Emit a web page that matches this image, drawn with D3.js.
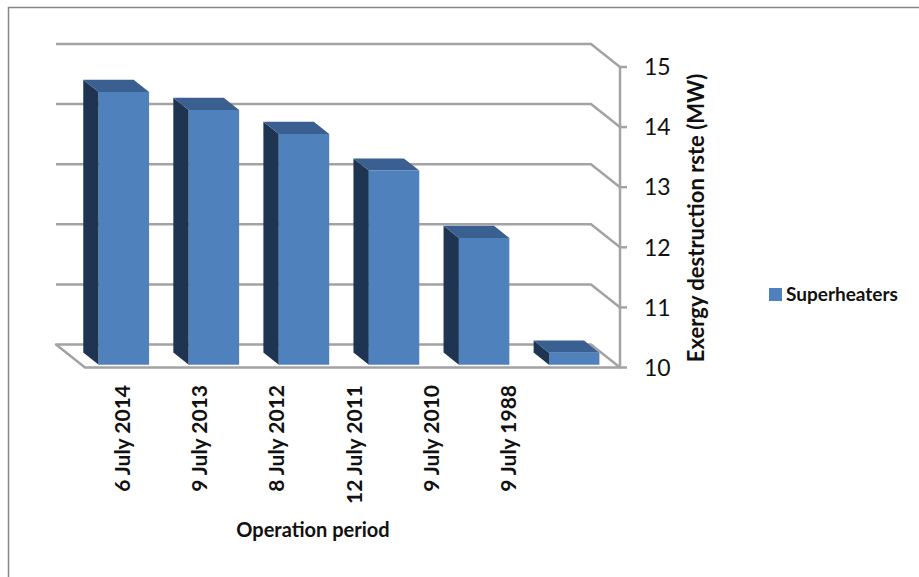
<!DOCTYPE html>
<html>
<head>
<meta charset="utf-8">
<script src="https://cdn.jsdelivr.net/npm/d3@7"></script>
<style>
  body { margin: 0; background: #fff; }
  svg { display: block; font-family: Lato, "Open Sans", sans-serif; }
</style>
</head>
<body>
<svg width="919" height="577"></svg>
<script>
// Chart data
var categories = ["6 July 2014", "9 July 2013", "8 July 2012", "12 July 2011", "9 July 2010", "9 July 1988"];
var superheaters = [14.54, 14.24, 13.84, 13.23, 12.11, 10.2];
var yTicks = [10, 11, 12, 13, 14, 15];
var seriesName = "Superheaters";

var svg = d3.select("svg");

// outer frame (runs off the right / bottom edge)
svg.append("rect")
    .attr("x", 8.5).attr("y", 7.5)
    .attr("width", 1000).attr("height", 1000)
    .attr("fill", "none")
    .attr("stroke", "#868686")
    .attr("stroke-width", 1.5);

var axisX = 620;
var depthX = 29, depthY = 23; // offset of back wall

var y = d3.scaleLinear().domain([10, 15]).range([367.5, 67]);
var x = d3.scaleBand().domain(categories).range([85, axisX])
    .paddingInner(0.44).paddingOuter(0.19);
var xLabel = d3.scaleBand().domain(categories).range([83.8, 547]);

// project a front-plane point to a given depth (0 = front, 1 = back wall)
function proj(px, py, z) {
    return [px - z * depthX, py - z * depthY];
}

var grid = svg.append("g").attr("class", "grid");
var gridColor = "#a3a3a3";

// floor
var floorPts = [proj(85, y(10), 0), proj(axisX, y(10), 0), proj(axisX, y(10), 1), proj(85, y(10), 1)];
grid.append("path")
    .attr("d", "M" + floorPts.map(function (p) { return p.join(","); }).join("L") + "Z")
    .attr("fill", "#fff")
    .attr("stroke", gridColor)
    .attr("stroke-width", 2.5)
    .attr("stroke-linejoin", "round");

// back wall gridlines with the bend down to the axis
grid.selectAll("path.gl")
    .data(yTicks.filter(function (d) { return d > 10; }))
    .enter().append("path")
    .attr("class", "gl")
    .attr("d", function (d) {
        var a = proj(85, y(d), 1), b = proj(axisX, y(d), 1), c = proj(axisX, y(d), 0);
        return "M" + a + "L" + b + "L" + c;
    })
    .attr("fill", "none")
    .attr("stroke", gridColor)
    .attr("stroke-width", 2.5);

// value axis line and ticks
grid.append("line")
    .attr("x1", axisX).attr("x2", axisX)
    .attr("y1", y(10)).attr("y2", y(15))
    .attr("stroke", gridColor).attr("stroke-width", 2.5);

var ticks = svg.append("g").selectAll("g")
    .data(yTicks).enter().append("g")
    .attr("transform", function (d) { return "translate(" + axisX + "," + y(d) + ")"; });
ticks.append("line")
    .attr("x1", 0).attr("x2", 7)
    .attr("stroke", gridColor).attr("stroke-width", 2.5);
ticks.append("text")
    .attr("x", 24)
    .attr("dy", "0.36em")
    .attr("font-size", 23)
    .attr("fill", "#111")
    .text(function (d) { return d; });

// bars (front face, left side, top)
var zFront = 0.12, zBack = 0.65;
var bars = svg.append("g").selectAll("g.bar")
    .data(categories).enter().append("g").attr("class", "bar");

function poly(pts) {
    return "M" + pts.map(function (p) { return p.join(","); }).join("L") + "Z";
}

bars.append("path")
    .attr("d", function (d, i) {
        var l = x(d), t = y(superheaters[i]), b = y(10);
        return poly([proj(l, t, zFront), proj(l, t, zBack), proj(l, b, zBack), proj(l, b, zFront)]);
    })
    .attr("fill", "#1f3451");
bars.append("path")
    .attr("d", function (d, i) {
        var l = x(d), r = x(d) + x.bandwidth(), t = y(superheaters[i]);
        return poly([proj(l, t, zFront), proj(r, t, zFront), proj(r, t, zBack), proj(l, t, zBack)]);
    })
    .attr("fill", "#3a6092");
bars.append("path")
    .attr("d", function (d, i) {
        var l = x(d), r = x(d) + x.bandwidth(), t = y(superheaters[i]), b = y(10);
        return poly([proj(l, t, zFront), proj(r, t, zFront), proj(r, b, zFront), proj(l, b, zFront)]);
    })
    .attr("fill", "#4f81bd");

// category labels
svg.append("g").selectAll("text")
    .data(categories).enter().append("text")
    .attr("transform", function (d) {
        return "translate(" + (xLabel(d) + xLabel.bandwidth() / 2 + 7.5) + ",385) rotate(-90)";
    })
    .attr("text-anchor", "end")
    .attr("font-size", 21)
    .attr("font-weight", "bold")
    .attr("fill", "#111")
    .text(function (d) { return d; });

// axis titles
svg.append("text")
    .attr("x", 313).attr("y", 537)
    .attr("text-anchor", "middle")
    .attr("font-size", 20)
    .attr("font-weight", "bold")
    .attr("fill", "#111")
    .text("Operation period");

svg.append("text")
    .attr("transform", "translate(704,218) rotate(-90)")
    .attr("text-anchor", "middle")
    .attr("font-size", 22)
    .attr("font-weight", "bold")
    .attr("fill", "#111")
    .text("Exergy destruction rste (MW)");

// legend
var legend = svg.append("g").attr("transform", "translate(769,288)");
legend.append("rect")
    .attr("width", 13).attr("height", 13)
    .attr("fill", "#4f81bd");
legend.append("text")
    .attr("x", 17).attr("y", 6.5)
    .attr("dy", "0.36em")
    .attr("font-size", 19)
    .attr("font-weight", "bold")
    .attr("fill", "#111")
    .text(seriesName);
</script>
</body>
</html>
